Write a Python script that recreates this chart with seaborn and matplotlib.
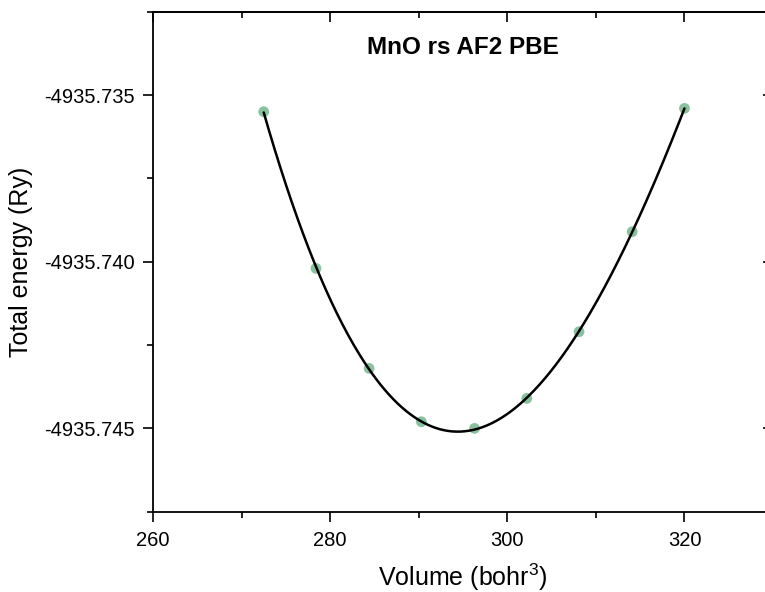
import numpy as np
import pandas as pd
import matplotlib
matplotlib.use("Agg")
import matplotlib.pyplot as plt
import seaborn as sns
from matplotlib.ticker import MultipleLocator, FormatStrFormatter

# ---- data ----
volume = [272.5, 278.4, 284.4, 290.3, 296.3, 302.2, 308.1, 314.1, 320.0]
energy = [-4935.7355, -4935.7402, -4935.7432, -4935.7448, -4935.7450,
          -4935.7441, -4935.7421, -4935.7391, -4935.7354]
title = "MnO rs AF2 PBE"
xlabel = "Volume (bohr$^3$)"
ylabel = "Total energy (Ry)"
x_major = [260, 280, 300, 320]

sns.set_theme(style="ticks")
plt.rcParams["font.family"] = ["Liberation Sans", "DejaVu Sans"]
plt.rcParams["axes.unicode_minus"] = False
plt.rcParams["mathtext.fontset"] = "custom"
plt.rcParams["mathtext.rm"] = "Liberation Sans"
plt.rcParams["text.color"] = "black"
plt.rcParams["axes.labelcolor"] = "black"

df = pd.DataFrame({"V": volume, "E": energy})
# smooth fit through the points (cubic polynomial)
e_ref = df["E"].mean()
coef = np.polyfit(df["V"], df["E"] - e_ref, 3)
vfit = np.linspace(min(volume), max(volume), 300)
fit = pd.DataFrame({"V": vfit, "E": np.polyval(coef, vfit) + e_ref})

fig = plt.figure(figsize=(7.65, 5.92), dpi=100)
ax = fig.add_axes([0.2, 0.1356, 0.8105, 0.8446])

sns.scatterplot(data=df, x="V", y="E", ax=ax, s=60, color="#3c9a5f",
                alpha=0.6, edgecolor="none", zorder=2)
sns.lineplot(data=fit, x="V", y="E", ax=ax, color="black", lw=1.8,
             zorder=3)

ax.set_xlim(260, 330)
ax.set_ylim(-4935.7475, -4935.7325)
ax.set_xticks(x_major)
ax.xaxis.set_minor_locator(MultipleLocator(10))
ax.yaxis.set_major_locator(MultipleLocator(0.005))
ax.yaxis.set_minor_locator(MultipleLocator(0.0025))
ax.yaxis.set_major_formatter(FormatStrFormatter("%.3f"))

for sp in ax.spines.values():
    sp.set_linewidth(1.3)
    sp.set_color("black")
    sp.set_visible(True)

ax.tick_params(which="major", direction="out", length=7, width=1.2,
               labelsize=14.5, colors="black", labelcolor="black", pad=6)
ax.tick_params(which="minor", direction="out", length=4, width=1.2,
               colors="black")
ax.tick_params(axis="x", which="major", pad=7)

# top and right ticks pointing inward, no labels
top = ax.secondary_xaxis("top")
top.set_xticks(x_major)
top.xaxis.set_minor_locator(MultipleLocator(10))
top.tick_params(which="major", direction="in", length=7, width=1.2,
                labeltop=False, colors="black")
top.tick_params(which="minor", direction="in", length=4, width=1.2,
                colors="black")
top.spines["top"].set_linewidth(1.3)
top.spines["top"].set_color("black")

right = ax.secondary_yaxis("right")
right.yaxis.set_major_locator(MultipleLocator(0.005))
right.tick_params(which="major", direction="in", length=7, width=1.2,
                  labelright=False, colors="black")
right.spines["right"].set_linewidth(1.3)
right.spines["right"].set_color("black")

ax.set_xlabel(xlabel, fontsize=18, labelpad=8, color="black")
ax.set_ylabel(ylabel, fontsize=18, labelpad=8, color="black")
ax.text(0.5, 0.929, title, transform=ax.transAxes, ha="center",
        va="center", fontsize=17.5, fontweight="bold", color="black")

fig.savefig("out.png", dpi=100)
